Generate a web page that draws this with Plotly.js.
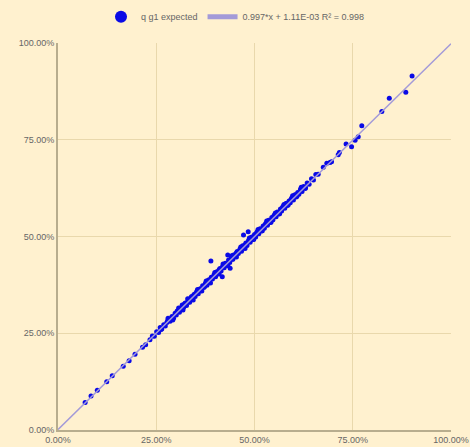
<!DOCTYPE html>
<html>
<head>
<meta charset="utf-8">
<script src="https://cdn.plot.ly/plotly-3.0.1.min.js"></script>
<style>
html,body{margin:0;padding:0;background:#FFF1CF;}
#chart{width:470px;height:447px;}
</style>
</head>
<body>
<div id="chart"></div>
<script>
// observed (x) vs expected (y), in percent
var xPct = [6.9,8.4,10.0,12.4,13.8,16.6,18.1,19.6,21.5,22.3,23.4,
24.0,24.5,25.1,25.6,26.0,26.4,26.9,27.3,27.7,28.2,28.5,29.0,29.4,29.8,30.1,30.5,30.9,31.3,31.6,32.0,32.4,32.7,33.1,33.5,33.8,34.2,34.6,34.9,35.3,35.7,36.0,36.4,36.8,37.1,37.5,37.9,38.2,38.6,39.0,39.3,39.7,40.1,40.4,40.8,41.2,41.5,41.9,42.3,42.6,43.0,43.4,43.7,44.1,44.5,44.8,45.2,45.6,45.9,46.3,46.7,47.0,47.4,47.8,48.1,48.5,48.9,49.2,49.6,50.0,50.3,50.7,51.1,51.4,51.8,52.2,52.5,52.9,53.3,53.6,54.0,54.4,54.7,55.1,55.5,55.8,56.2,56.6,56.9,57.3,57.7,58.0,58.4,58.8,59.1,59.5,59.9,60.2,60.6,61.0,61.3,61.7,62.1,62.5,62.9,63.4,63.9,64.5,65.0,65.6,66.2,
26.2,27.9,28.8,30.3,31.0,32.2,33.3,34.0,35.0,36.2,37.3,38.4,40.6,41.0,42.1,44.3,45.4,46.5,47.6,49.4,50.5,51.6,52.7,53.8,54.9,56.0,57.1,58.2,59.3,60.4,
28.0,29.2,30.7,31.8,33.0,34.4,35.5,36.6,37.7,38.8,39.9,41.0,42.0,43.2,44.3,45.4,46.5,47.6,48.7,49.8,50.9,52.0,53.1,54.2,55.3,56.4,57.5,58.6,59.7,60.8,61.9,63.0,
38.9,41.8,43.8,43.2,47.2,48.4,
67.5,68.4,69.2,69.6,71.3,71.6,73.3,74.7,75.6,76.4,77.3,82.4,84.3,88.5,90.1];
var yPct = [7.1,8.8,10.3,12.5,14.0,16.5,17.9,19.6,21.4,22.0,23.3,
24.3,24.2,25.4,25.2,26.5,26.1,27.2,26.9,27.8,28.6,28.1,29.3,28.9,30.2,29.7,30.9,30.4,31.6,32.3,31.7,32.8,32.2,33.5,33.0,34.2,33.8,35.0,34.5,35.8,35.2,36.4,36.0,37.3,36.8,37.9,37.4,38.6,38.2,39.5,39.0,40.1,39.6,40.9,40.4,41.7,41.1,42.3,41.9,43.1,42.6,43.9,43.3,44.6,44.1,45.3,44.8,46.1,45.6,46.8,46.2,47.6,47.0,48.3,47.7,49.0,48.5,49.8,49.2,50.5,49.9,51.2,50.7,52.0,51.4,52.7,52.1,53.4,52.9,54.2,53.6,54.9,54.3,55.6,55.1,56.3,55.8,57.1,56.6,57.8,57.3,58.5,58.0,59.2,58.7,60.0,59.4,60.7,60.2,61.4,60.9,62.2,61.6,62.9,62.4,63.8,63.5,64.9,64.6,66.0,66.1,
26.0,28.2,28.6,30.7,31.2,32.6,33.1,34.5,35.3,36.5,37.0,38.8,40.8,41.4,42.5,44.1,45.8,46.9,47.9,49.9,50.9,51.9,53.1,54.1,55.3,56.2,57.5,58.6,59.6,60.8,
28.9,28.4,31.5,31.0,33.9,33.6,36.3,35.9,38.5,38.0,40.7,40.3,42.9,42.5,45.1,44.7,47.3,46.9,49.6,49.2,51.8,51.5,54.0,53.7,56.1,55.9,58.3,58.2,60.5,60.4,62.7,62.6,
43.7,39.6,41.8,45.2,50.4,51.2,
67.9,68.9,69.1,69.3,71.1,71.7,73.9,73.2,74.9,75.8,78.6,82.3,85.7,87.3,91.5];
var seriesName = "q g1 expected";
var slope = 0.997, intercept = 0.00111, r2 = 0.998;
var fitName = "0.997*x + 1.11E-03 R\u00b2 = 0.998";
var fitX = [0, 1];
var tickVals = [0, 0.25, 0.5, 0.75, 1];
var tickText = ["0.00%", "25.00%", "50.00%", "75.00%", "100.00%"];

var xs = xPct.map(function(v){return v/100;});
var ys = yPct.map(function(v){return v/100;});
var fitY = fitX.map(function(v){return slope*v + intercept;});

var traces = [
  {x: xs, y: ys, type: 'scatter', mode: 'markers', name: seriesName,
   marker: {color: '#0A0AE6', size: 5}},
  {x: fitX, y: fitY, type: 'scatter', mode: 'lines', name: fitName,
   line: {color: '#A39AD8', width: 1.5}}
];
var axisCommon = {
  range: [0, 1], tickvals: tickVals, ticktext: tickText,
  showgrid: true, gridcolor: '#E9D8AC', gridwidth: 1,
  showline: true, linecolor: '#B8AD8E', linewidth: 2,
  zeroline: false, ticks: '',
  tickfont: {family: 'Liberation Sans, Arial, sans-serif', size: 9, color: '#666666'}
};
var layout = {
  width: 470, height: 447,
  paper_bgcolor: '#FFF1CF', plot_bgcolor: '#FFF1CF',
  margin: {l: 58, r: 19, t: 43, b: 17},
  showlegend: true,
  legend: {orientation: 'h', x: 0.5, xref: 'container', xanchor: 'center',
           y: 0.995, yref: 'container', yanchor: 'top',
           bgcolor: 'rgba(0,0,0,0)', itemsizing: 'constant',
           font: {family: 'Liberation Sans, Arial, sans-serif', size: 9, color: '#666666'}},
  xaxis: Object.assign({}, axisCommon, {ticklabelstandoff: 0}),
  yaxis: Object.assign({}, axisCommon)
};
Plotly.newPlot('chart', traces, layout, {displayModeBar: false, staticPlot: true});
</script>
</body>
</html>
